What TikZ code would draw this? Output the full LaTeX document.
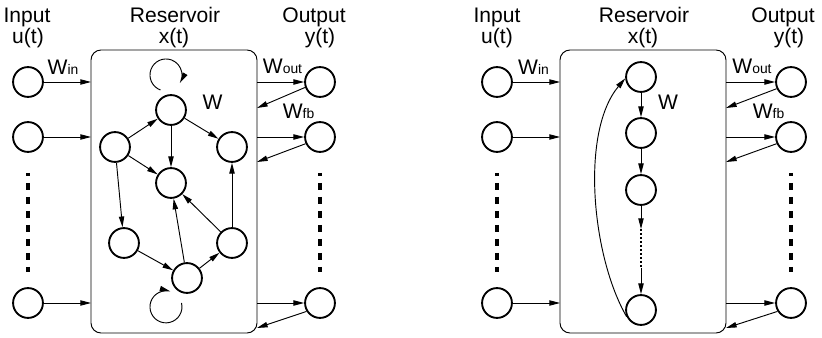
\documentclass[tikz,border=0pt]{standalone}
\usepackage{fontspec}
\setmainfont{Liberation Sans}
\usetikzlibrary{arrows.meta}
\pgfdeclarelayer{edgelayer}
\pgfdeclarelayer{nodelayer}
\pgfsetlayers{edgelayer,nodelayer,main}
\tikzstyle{none}=[inner sep=0pt]
\tikzstyle{vertex}=[circle,fill=white,draw=black,line width=1.4pt,minimum size=22.4pt,inner sep=0pt]
\tikzstyle{arc}=[draw=black,line width=0.7pt,-{Triangle[length=8pt,width=4pt]}]
\tikzstyle{dots}=[draw=black,line width=2.5pt,dash pattern=on 5.25pt off 5.25pt,dash phase=3pt]
\tikzstyle{dotline}=[draw=black,line width=1pt,dash pattern=on 1.4pt off 1.6pt]
\tikzstyle{frame}=[draw=black,line width=0.7pt,rounded corners=7.5pt]
\tikzstyle{heading}=[inner sep=0pt,anchor=base,font=\fontsize{15.8}{19}\selectfont]
\newcommand{\wsub}[1]{{\fontsize{10.4}{12}\selectfont #1}}

\begin{document}
\begin{tikzpicture}[x=0.75pt,y=0.75pt]
			\useasboundingbox (0,0) rectangle (822,-338);
			\begin{pgfonlayer}{nodelayer}
			% left: inputs, outputs
			\node [style=vertex] (0) at (28, -82) {};
			\node [style=vertex] (1) at (28, -137) {};
			\node [style=vertex] (2) at (28, -303) {};
			\node [style=vertex] (3) at (320, -82) {};
			\node [style=vertex] (4) at (320, -137) {};
			\node [style=vertex] (5) at (320, -303) {};
			% left: reservoir
			\node [style=vertex] (6) at (171, -110) {};
			\node [style=vertex] (7) at (115, -147) {};
			\node [style=vertex] (8) at (232, -147) {};
			\node [style=vertex] (9) at (171, -183) {};
			\node [style=vertex] (10) at (124, -243) {};
			\node [style=vertex] (11) at (232, -243) {};
			\node [style=vertex] (12) at (187, -278) {};
			% right: inputs, outputs
			\node [style=vertex] (13) at (497, -82) {};
			\node [style=vertex] (14) at (497, -137) {};
			\node [style=vertex] (15) at (497, -303) {};
			\node [style=vertex] (16) at (791, -82) {};
			\node [style=vertex] (17) at (791, -137) {};
			\node [style=vertex] (18) at (791, -303) {};
			% right: reservoir
			\node [style=vertex] (19) at (641, -77) {};
			\node [style=vertex] (20) at (641, -133) {};
			\node [style=vertex] (21) at (641, -190) {};
			\node [style=vertex] (22) at (641, -310) {};
			% box corners, box edge points
			\node [style=none] (23) at (91, -50) {};
			\node [style=none] (24) at (257, -333) {};
			\node [style=none] (25) at (560, -50) {};
			\node [style=none] (26) at (726, -333) {};
			\node [style=none] (27) at (91, -82) {};
			\node [style=none] (28) at (91, -137) {};
			\node [style=none] (29) at (91, -303) {};
			\node [style=none] (30) at (257, -82) {};
			\node [style=none] (31) at (257, -137) {};
			\node [style=none] (32) at (257, -303) {};
			\node [style=none] (33) at (257, -108) {};
			\node [style=none] (34) at (257, -162) {};
			\node [style=none] (35) at (257, -328) {};
			\node [style=none] (36) at (560, -82) {};
			\node [style=none] (37) at (560, -137) {};
			\node [style=none] (38) at (560, -303) {};
			\node [style=none] (39) at (726, -82) {};
			\node [style=none] (40) at (726, -137) {};
			\node [style=none] (41) at (726, -303) {};
			\node [style=none] (42) at (726, -108) {};
			\node [style=none] (43) at (726, -162) {};
			\node [style=none] (44) at (726, -328) {};
			% dots
			\node [style=none] (45) at (28, -173) {};
			\node [style=none] (46) at (28, -272) {};
			\node [style=none] (47) at (320, -173) {};
			\node [style=none] (48) at (320, -272) {};
			\node [style=none] (49) at (497, -173) {};
			\node [style=none] (50) at (497, -272) {};
			\node [style=none] (51) at (791, -173) {};
			\node [style=none] (52) at (791, -272) {};
			\node [style=none] (53) at (641, -229) {};
			\node [style=none] (54) at (641, -268) {};
			% texts
			\node [style=heading] (55) at (27, -22.7) {Input};
			\node [style=heading] (56) at (28, -43.5) {u(t)};
			\node [style=heading] (57) at (175, -22.7) {Reservoir};
			\node [style=heading] (58) at (174, -43.5) {x(t)};
			\node [style=heading] (59) at (314, -22.7) {Output};
			\node [style=heading] (60) at (320, -43.5) {y(t)};
			\node [style=heading] (61) at (63, -75) {W\wsub{in}};
			\node [style=heading] (62) at (282.5, -74) {W\wsub{out}};
			\node [style=heading] (63) at (298.5, -119) {W\wsub{fb}};
			\node [style=heading] (64) at (212.5, -110) {W};
			\node [style=heading] (65) at (497, -22.7) {Input};
			\node [style=heading] (66) at (497, -43.5) {u(t)};
			\node [style=heading] (67) at (644, -22.7) {Reservoir};
			\node [style=heading] (68) at (643, -43.5) {x(t)};
			\node [style=heading] (69) at (783, -22.7) {Output};
			\node [style=heading] (70) at (789, -43.5) {y(t)};
			\node [style=heading] (71) at (533.5, -75) {W\wsub{in}};
			\node [style=heading] (72) at (752, -74) {W\wsub{out}};
			\node [style=heading] (73) at (768.5, -119) {W\wsub{fb}};
			\node [style=heading] (74) at (668, -110) {W};
			\end{pgfonlayer}
			\begin{pgfonlayer}{edgelayer}
			\draw [style=frame] (23.center) rectangle (24.center);
			\draw [style=frame] (25.center) rectangle (26.center);
			\draw [style=dots] (45.center) to (46.center);
			\draw [style=dots] (47.center) to (48.center);
			\draw [style=dots] (49.center) to (50.center);
			\draw [style=dots] (51.center) to (52.center);
			\draw [style=arc] (0) to (27.center);
			\draw [style=arc] (1) to (28.center);
			\draw [style=arc] (2) to (29.center);
			\draw [style=arc] (30.center) to (3);
			\draw [style=arc] (31.center) to (4);
			\draw [style=arc] (32.center) to (5);
			\draw [style=arc] (3.200) to (33.center);
			\draw [style=arc] (4.205) to (34.center);
			\draw [style=arc] (5.212) to (35.center);
			\draw [style=arc] (7) to (6);
			\draw [style=arc] (7) to (9);
			\draw [style=arc] (7) to (10);
			\draw [style=arc] (6) to (9);
			\draw [style=arc] (6) to (8);
			\draw [style=arc] (10) to (12);
			\draw [style=arc] (12) to (9);
			\draw [style=arc] (12) to (11);
			\draw [style=arc] (11) to (9);
			\draw [style=arc] (11) to (8);
			\draw [style=arc] (6.center) ++(-10.5, 20) arc [start angle=250, end angle=-30, radius=16];
			\draw [style=arc] (12.center) ++(-5.5, -25) arc [start angle=14, end angle=-286, radius=16];
			\draw [style=arc] (13) to (36.center);
			\draw [style=arc] (14) to (37.center);
			\draw [style=arc] (15) to (38.center);
			\draw [style=arc] (39.center) to (16);
			\draw [style=arc] (40.center) to (17);
			\draw [style=arc] (41.center) to (18);
			\draw [style=arc] (16.205) to (42.center);
			\draw [style=arc] (17.205) to (43.center);
			\draw [style=arc] (18.212) to (44.center);
			\draw [style=arc] (19) to (20);
			\draw [style=arc] (20) to (21);
			\draw [style=arc] (21) to (53.center);
			\draw [style=dotline] (53.center) to (54.center);
			\draw [style=arc] (54.center) to (22);
			\draw [style=arc] (22.205) to [out=120, in=230, looseness=0.75] (19.185);
			\end{pgfonlayer}
\end{tikzpicture}
\end{document}
